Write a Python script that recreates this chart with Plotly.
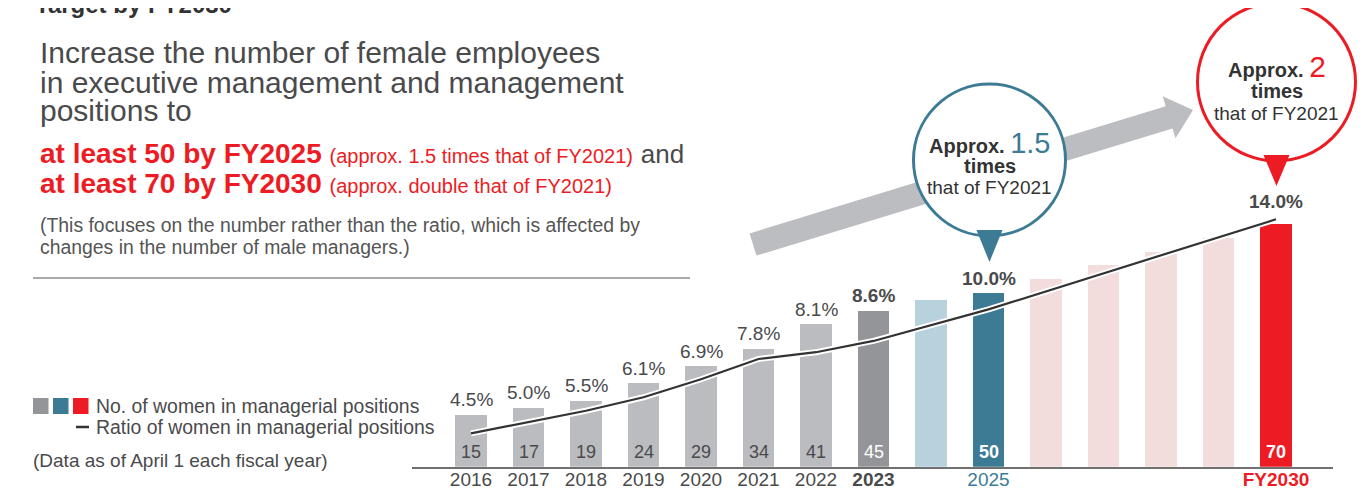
import math
import plotly.graph_objects as go

# The page body has an 8px margin, so the figure is drawn 8px in from the
# window's top-left corner; size it to fill the rest of the 1366x495 window.
OX, OY = 8, 8
W, H = 1366 - OX, 495 - OY
FONT = "Liberation Sans, Arial, sans-serif"
TXT = "#4a4a4c"
RED = "#ed1c24"
TEAL = "#3d7b95"

# ---------------- data ----------------
years = list(range(2016, 2031))
women_count = [15, 17, 19, 24, 29, 34, 41, 45, 48, 50, 54, 58, 62, 66, 70]
bar_colors = ["#bbbcbf"] * 7 + ["#939598", "#b7d1dd", "#3d7b95",
                                 "#f2dcdc", "#f2dcdc", "#f2dcdc", "#f2dcdc", "#ed1c24"]
count_labels = ["15", "17", "19", "24", "29", "34", "41", "45", "", "50", "", "", "", "", "70"]
count_label_colors = [TXT] * 7 + ["#ffffff"] * 8
count_label_bold = [False] * 8 + [True] * 7

ratio_years = [2016, 2017, 2018, 2019, 2020, 2021, 2022, 2023, 2025, 2030]
ratio_values = [4.5, 5.0, 5.5, 6.1, 6.9, 7.8, 8.1, 8.6, 10.0, 14.0]
ratio_labels = ["4.5%", "5.0%", "5.5%", "6.1%", "6.9%", "7.8%", "8.1%", "8.6%", "10.0%", "14.0%"]
ratio_label_bold = [False] * 7 + [True, True, True]

tick_years = [2016, 2017, 2018, 2019, 2020, 2021, 2022, 2023, 2025, 2030]
tick_labels = ["2016", "2017", "2018", "2019", "2020", "2021", "2022", "<b>2023</b>",
               f"<span style='color:{TEAL}'>2025</span>",
               f"<span style='color:{RED}'><b>FY2030</b></span>"]


def px(x):
    return (x - OX) / W


def py(y):
    return 1 - (y - OY) / H


fig = go.Figure()

fig.add_trace(go.Bar(
    x=years, y=women_count, marker=dict(color=bar_colors, line=dict(width=0)),
    width=0.54, hoverinfo="skip", showlegend=False,
))

# ratio line with white casing
fig.add_trace(go.Scatter(x=ratio_years, y=ratio_values, yaxis="y2", mode="lines",
                         line=dict(color="#ffffff", width=6), hoverinfo="skip", showlegend=False))
fig.add_trace(go.Scatter(x=ratio_years, y=ratio_values, yaxis="y2", mode="lines",
                         line=dict(color="#333333", width=2.2), hoverinfo="skip", showlegend=False))

ann = []

# counts inside bars
for yr, v, lab, col, b in zip(years, women_count, count_labels, count_label_colors, count_label_bold):
    if not lab:
        continue
    ann.append(dict(x=yr, y=0, xref="x", yref="y", text=f"<b>{lab}</b>" if b else lab,
                    showarrow=False, yanchor="middle", yshift=15,
                    font=dict(family=FONT, size=18, color=col)))

# percentage labels above bars
for yr, lab, b in zip(ratio_years, ratio_labels, ratio_label_bold):
    v = women_count[years.index(yr)]
    shift = 22 if yr == 2030 else 15
    ann.append(dict(x=yr, y=v, xref="x", yref="y", text=f"<b>{lab}</b>" if b else lab,
                    showarrow=False, yanchor="middle", yshift=shift,
                    font=dict(family=FONT, size=19, color=TXT)))


def text(x, y, t, size, color=TXT, anchor="left"):
    ann.append(dict(x=px(x), y=py(y), xref="paper", yref="paper", text=t, showarrow=False,
                    xanchor=anchor, yanchor="middle",
                    font=dict(family=FONT, size=size, color=color)))


# cropped title at top
text(33, 4, "<b>Target by FY2030</b>", 24, "#333333")

# left text block
text(38, 53, "Increase the number of female employees", 30)
text(38, 82, "in executive management and management", 30)
text(38, 111, "positions to", 30)
text(38, 153, f"<b>at least 50 by FY2025</b> <span style='font-size:20px'>(approx. 1.5 times that of FY2021)</span>"
              f" <span style='color:{TXT};font-size:26px'>and</span>", 28, RED)
text(38, 183, f"<b>at least 70 by FY2030</b> <span style='font-size:20px'>(approx. double that of FY2021)</span>",
     28, RED)
text(38, 225, "(This focuses on the number rather than the ratio, which is affected by", 19.4, "#555555")
text(38, 247, "changes in the number of male managers.)", 19.4, "#555555")

# legend
text(94, 406, "No. of women in managerial positions", 19.4)
text(94, 427, "Ratio of women in managerial positions", 19.4)
text(31, 460, "(Data as of April 1 each fiscal year)", 19)

# bubble texts
text(989.5, 143, f"<b>Approx.</b> <span style='color:{TEAL};font-size:29px'>1.5</span>", 20, "#333333", "center")
text(989.5, 166, "<b>times</b>", 20, "#333333", "center")
text(989.5, 188, "that of FY2021", 19, "#333333", "center")
text(1276.5, 67, f"<b>Approx.</b> <span style='color:{RED};font-size:30px'>2</span>", 20, "#333333", "center")
text(1276.5, 91, "<b>times</b>", 20, "#333333", "center")
text(1276.5, 113, "that of FY2021", 19, "#333333", "center")

shapes = []


def path(points):
    return "M " + " L ".join(f"{px(x):.5f},{py(y):.5f}" for x, y in points) + " Z"


# big gray arrow
T = (753, 244.5)
P = (1193, 110)
L = math.hypot(P[0] - T[0], P[1] - T[1])
u = ((P[0] - T[0]) / L, (P[1] - T[1]) / L)
n = (-u[1], u[0])
w, hw, hl = 11.6, 22, 25
B = (P[0] - u[0] * hl, P[1] - u[1] * hl)
pts = [
    (T[0] + n[0] * w, T[1] + n[1] * w),
    (B[0] + n[0] * w, B[1] + n[1] * w),
    (B[0] + n[0] * hw, B[1] + n[1] * hw),
    P,
    (B[0] - n[0] * hw, B[1] - n[1] * hw),
    (B[0] - n[0] * w, B[1] - n[1] * w),
    (T[0] - n[0] * w, T[1] - n[1] * w),
]
shapes.append(dict(type="path", path=path(pts), xref="paper", yref="paper",
                   fillcolor="#bcbdc0", line=dict(width=0), layer="above"))


def bubble(cx, cy, r, color, tip_y):
    shapes.append(dict(type="circle", xref="paper", yref="paper",
                       x0=px(cx - r), x1=px(cx + r), y0=py(cy + r), y1=py(cy - r),
                       fillcolor="white", line=dict(color=color, width=3), layer="above"))
    base = cy + r - 6
    shapes.append(dict(type="path", xref="paper", yref="paper",
                       path=path([(cx - 13, base), (cx + 13, base), (cx, tip_y)]),
                       fillcolor=color, line=dict(width=0), layer="above"))


bubble(989.5, 160, 76, TEAL, 262)
bubble(1276.5, 82, 79, RED, 186)

# horizontal rule
shapes.append(dict(type="line", xref="paper", yref="paper", x0=px(33), x1=px(690),
                   y0=py(278), y1=py(278), line=dict(color="#555555", width=1)))

# legend keys
for x0, c in [(33, "#949598"), (53, TEAL), (73, RED)]:
    shapes.append(dict(type="rect", xref="paper", yref="paper", x0=px(x0), x1=px(x0 + 15.5),
                       y0=py(414), y1=py(398), fillcolor=c, line=dict(width=0)))
shapes.append(dict(type="line", xref="paper", yref="paper", x0=px(76), x1=px(89),
                   y0=py(427), y1=py(427), line=dict(color="#333333", width=2.5)))

base_y = 466.7          # pixel row of the bar baseline
bar_scale = 3.47        # pixels per woman
ratio_scale = 22.53     # pixels per percentage point
ratio_zero_px = 534.7   # pixel row where a 0% ratio would fall
top_y = OY              # pixel row of the top of the plot area

fig.update_layout(
    width=W, height=H,
    margin=dict(l=0, r=0, t=0, b=0),
    paper_bgcolor="white", plot_bgcolor="white",
    showlegend=False,
    bargap=0,
    xaxis=dict(domain=[px(412), px(1333)], range=[2016 - 59 / 57.5, 2016 + 862 / 57.5],
               tickvals=tick_years, ticktext=tick_labels, ticks="", ticklabelstandoff=-5,
               showline=True, linecolor="#707070", linewidth=1.5,
               showgrid=False, zeroline=False,
               tickfont=dict(family=FONT, size=19, color=TXT)),
    yaxis=dict(domain=[py(base_y), 1], range=[0, (base_y - top_y) / bar_scale], visible=False,
               showgrid=False, zeroline=False),
    yaxis2=dict(overlaying="y",
                range=[(ratio_zero_px - base_y) / ratio_scale, (ratio_zero_px - top_y) / ratio_scale],
                visible=False, showgrid=False, zeroline=False),
    annotations=ann,
    shapes=shapes,
)

fig.write_html("out.html")
